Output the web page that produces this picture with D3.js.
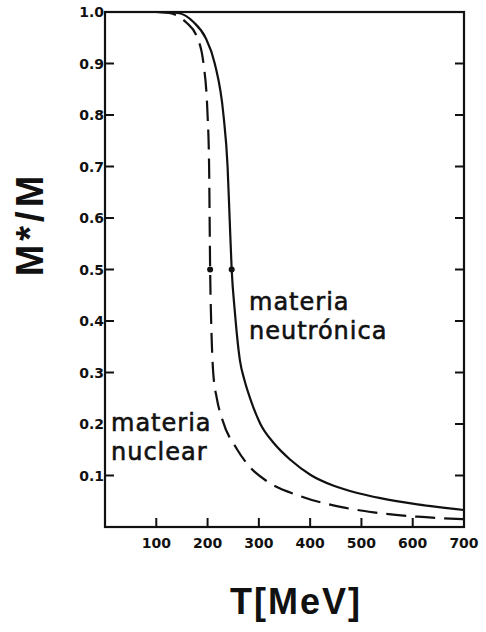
<!DOCTYPE html>
<html>
<head>
<meta charset="utf-8">
<script src="https://cdn.jsdelivr.net/npm/d3@7"></script>
<style>
  body { margin: 0; background: #fff; }
  svg { display: block; }
</style>
</head>
<body>
<div id="chart"></div>
<script>
const width = 486;
const height = 632;

// neutron matter (solid) : T [MeV] and M*/M
const neutronT = [100, 142, 173, 196, 214, 231, 239, 243, 247, 253, 263, 272, 284, 303, 329, 362, 401, 446, 492, 537, 609, 700];
const neutronM = [1.0, 0.998, 0.98, 0.95, 0.9, 0.8, 0.7, 0.6, 0.5, 0.42, 0.324, 0.285, 0.247, 0.2, 0.163, 0.13, 0.101, 0.08, 0.066, 0.056, 0.044, 0.033];

// nuclear matter (dashed)
const nuclearT = [100, 125, 158, 180, 192, 200, 203, 204, 205, 207, 211, 218, 229, 258, 281, 317, 381, 459, 524, 609, 700];
const nuclearM = [1.0, 0.998, 0.98, 0.95, 0.9, 0.8, 0.7, 0.6, 0.5, 0.4, 0.3, 0.25, 0.208, 0.15, 0.118, 0.088, 0.06, 0.039, 0.0285, 0.02, 0.015];

const xTicks = [100, 200, 300, 400, 500, 600, 700];
const yTicks = [0.1, 0.2, 0.3, 0.4, 0.5, 0.6, 0.7, 0.8, 0.9, 1.0];
const yTickLabels = ['0.1', '0.2', '0.3', '0.4', '0.5', '0.6', '0.7', '0.8', '0.9', '1.0'];

const svg = d3.select('#chart').append('svg')
  .attr('width', width)
  .attr('height', height);

const xScale = d3.scaleLinear().domain([0, 700]).range([105, 464]);
const yScale = d3.scaleLinear().domain([0, 1]).range([527, 12]);

const tickFont = 'DejaVu Sans, sans-serif';

// frame
svg.append('rect')
  .attr('x', xScale(0))
  .attr('y', yScale(1))
  .attr('width', xScale(700) - xScale(0))
  .attr('height', yScale(0) - yScale(1))
  .attr('fill', 'none')
  .attr('stroke', '#111')
  .attr('stroke-width', 2.2);

// inward ticks on the left and right sides (left 0.2 tick is hidden by the label text)
svg.selectAll('.ytick-l').data(yTicks.filter(d => d < 1 && d !== 0.2))
  .enter().append('line')
  .attr('x1', xScale(0)).attr('x2', xScale(0) + 9)
  .attr('y1', d => yScale(d)).attr('y2', d => yScale(d))
  .attr('stroke', '#111').attr('stroke-width', 2);

svg.selectAll('.ytick-r').data(yTicks.filter(d => d < 1))
  .enter().append('line')
  .attr('x1', xScale(700)).attr('x2', xScale(700) - 9)
  .attr('y1', d => yScale(d)).attr('y2', d => yScale(d))
  .attr('stroke', '#111').attr('stroke-width', 2);

svg.selectAll('.xtick').data(xTicks.filter(d => d < 700))
  .enter().append('line')
  .attr('x1', d => xScale(d)).attr('x2', d => xScale(d))
  .attr('y1', yScale(0)).attr('y2', yScale(0) - 9)
  .attr('stroke', '#111').attr('stroke-width', 2);

// tick labels
svg.selectAll('.ylab').data(yTicks)
  .enter().append('text')
  .attr('x', xScale(0) - 1)
  .attr('y', d => yScale(d) + 5)
  .attr('text-anchor', 'end')
  .attr('font-family', tickFont)
  .attr('font-weight', 'bold')
  .attr('font-size', 14)
  .attr('fill', '#111')
  .text((d, i) => yTickLabels[i]);

svg.selectAll('.xlab').data(xTicks)
  .enter().append('text')
  .attr('x', d => xScale(d))
  .attr('y', 548)
  .attr('text-anchor', 'middle')
  .attr('font-family', tickFont)
  .attr('font-weight', 'bold')
  .attr('font-size', 14)
  .attr('fill', '#111')
  .text(d => d);

// curves
const line = d3.line()
  .x(d => xScale(d[0]))
  .y(d => yScale(d[1]))
  .curve(d3.curveMonotoneX);

const neutron = neutronT.map((t, i) => [t, neutronM[i]]);
const nuclear = nuclearT.map((t, i) => [t, nuclearM[i]]);

svg.append('path')
  .datum(neutron)
  .attr('d', line)
  .attr('fill', 'none')
  .attr('stroke', '#111')
  .attr('stroke-width', 2.2);

svg.append('path')
  .datum(nuclear)
  .attr('d', line)
  .attr('fill', 'none')
  .attr('stroke', '#111')
  .attr('stroke-width', 2.2)
  .attr('stroke-dasharray', '20,9');

// dots at M*/M = 0.5
svg.selectAll('.half').data([neutron[8], nuclear[8]])
  .enter().append('circle')
  .attr('cx', d => xScale(d[0]))
  .attr('cy', d => yScale(d[1]))
  .attr('r', 3)
  .attr('fill', '#111');

// curve labels
const labelFont = 'DejaVu Sans, sans-serif';
function addLabel(x, y, lines) {
  const t = svg.append('text')
    .attr('font-family', labelFont)
    .attr('font-size', 24)
    .attr('letter-spacing', 1)
    .attr('fill', '#111')
    .attr('stroke', '#111')
    .attr('stroke-width', 0.6);
  lines.forEach((s, i) => {
    t.append('tspan').attr('x', x).attr('y', y + i * 29).text(s);
  });
}
addLabel(249, 310, ['materia', 'neutrónica']);
addLabel(111, 431, ['materia', 'nuclear']);

// axis titles
svg.append('text')
  .attr('transform', 'translate(43,224) rotate(-90)')
  .attr('text-anchor', 'middle')
  .attr('font-family', 'Liberation Sans, Arial, sans-serif')
  .attr('font-weight', 'bold')
  .attr('font-size', 38)
  .attr('letter-spacing', 4)
  .attr('fill', '#111')
  .text('M*/M');

svg.append('text')
  .attr('x', 296)
  .attr('y', 614)
  .attr('text-anchor', 'middle')
  .attr('font-family', 'Liberation Sans, Arial, sans-serif')
  .attr('font-weight', 'bold')
  .attr('font-size', 36)
  .attr('letter-spacing', 2)
  .attr('fill', '#111')
  .text('T[MeV]');
</script>
</body>
</html>
